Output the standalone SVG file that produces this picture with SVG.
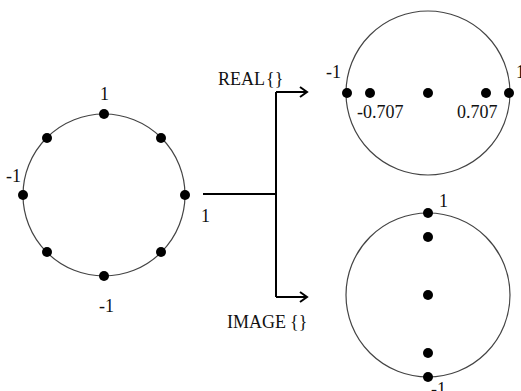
<svg xmlns="http://www.w3.org/2000/svg" width="521" height="391" viewBox="0 0 521 391">
<defs>
<style>
.ring{fill:none;stroke:#444;stroke-width:1.2}
.dot{fill:#000}
.lbl{font-family:"Liberation Serif","Times New Roman",serif;font-size:18px;fill:#111}
.conn{fill:none;stroke:#000;stroke-width:2}
</style>
<marker id="arr" markerWidth="12" markerHeight="12" refX="10" refY="6" orient="auto" markerUnits="userSpaceOnUse">
<path d="M3,1 L10,6 L3,11" fill="none" stroke="#000" stroke-width="2"/>
</marker>
</defs>
<rect width="521" height="391" fill="#fff"/>
<g id="unit-circle">
<circle class="ring" cx="104" cy="195" r="81"/>
<circle class="dot" cx="104" cy="114" r="5"/>
<circle class="dot" cx="161" cy="138" r="5"/>
<circle class="dot" cx="185" cy="195" r="5"/>
<circle class="dot" cx="161" cy="252" r="5"/>
<circle class="dot" cx="104" cy="276" r="5"/>
<circle class="dot" cx="47" cy="252" r="5"/>
<circle class="dot" cx="23" cy="195" r="5"/>
<circle class="dot" cx="47" cy="138" r="5"/>
<text class="lbl" x="100" y="100">1</text>
<text class="lbl" x="6" y="182">-1</text>
<text class="lbl" x="201" y="222">1</text>
<text class="lbl" x="99" y="312">-1</text>
</g>
<g id="connectors">
<path class="conn" d="M203,194 H276"/>
<path class="conn" d="M276,92 V297"/>
<path class="conn" d="M276,92 H307" marker-end="url(#arr)"/>
<path class="conn" d="M276,297 H307" marker-end="url(#arr)"/>
<text class="lbl" x="218" y="85">REAL<tspan dx="1">{}</tspan></text>
<text class="lbl" x="227" y="328">IMAGE<tspan dx="4">{}</tspan></text>
</g>
<g id="real-circle">
<circle class="ring" cx="428" cy="93" r="82"/>
<circle class="dot" cx="347" cy="93" r="5"/>
<circle class="dot" cx="370" cy="93" r="5"/>
<circle class="dot" cx="428" cy="93" r="5"/>
<circle class="dot" cx="486" cy="93" r="5"/>
<circle class="dot" cx="509" cy="93" r="5"/>
<text class="lbl" x="326" y="78">-1</text>
<text class="lbl" x="357" y="118">-0.707</text>
<text class="lbl" x="457" y="118">0.707</text>
<text class="lbl" x="516" y="78">1</text>
</g>
<g id="image-circle">
<circle class="ring" cx="428" cy="295" r="82"/>
<circle class="dot" cx="428" cy="213" r="5"/>
<circle class="dot" cx="428" cy="237" r="5"/>
<circle class="dot" cx="428" cy="295" r="5"/>
<circle class="dot" cx="428" cy="353" r="5"/>
<circle class="dot" cx="428" cy="377" r="5"/>
<text class="lbl" x="439" y="207">1</text>
<text class="lbl" x="431" y="395">-1</text>
</g>
</svg>
